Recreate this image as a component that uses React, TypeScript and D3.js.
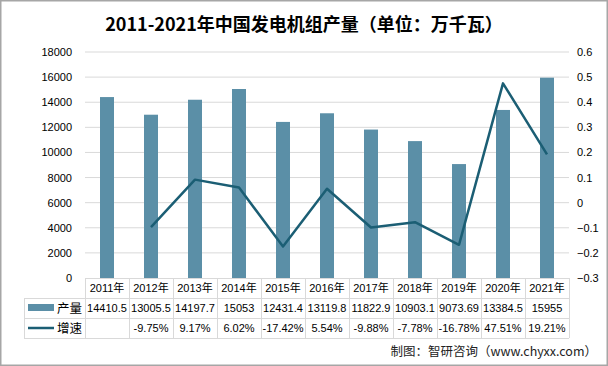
import React from "react";
import * as d3 from "d3";

const years = ["2011年","2012年","2013年","2014年","2015年","2016年","2017年","2018年","2019年","2020年","2021年"];
const output = [14410.5, 13005.5, 14197.7, 15053, 12431.4, 13119.8, 11822.9, 10903.1, 9073.69, 13384.5, 15955];
const outputLabels = ["14410.5","13005.5","14197.7","15053","12431.4","13119.8","11822.9","10903.1","9073.69","13384.5","15955"];
const growth: (number | null)[] = [null, -0.0975, 0.0917, 0.0602, -0.1742, 0.0554, -0.0988, -0.0778, -0.1678, 0.4751, 0.1921];
const growthLabels = ["", "-9.75%", "9.17%", "6.02%", "-17.42%", "5.54%", "-9.88%", "-7.78%", "-16.78%", "47.51%", "19.21%"];
const leftTicks = [0, 2000, 4000, 6000, 8000, 10000, 12000, 14000, 16000, 18000];
const rightTicks = [-0.3, -0.2, -0.1, 0, 0.1, 0.2, 0.3, 0.4, 0.5, 0.6];
const seriesNames = ["产量", "增速"];

const W = 608, H = 366;
const X0 = 85, X1 = 569, YT = 52, YB = 278;
const ROW = 20;
const BAR = "#5b8fa7";
const LINE = "#1b5e74";
const GRID = "#d9d9d9";
const FONT = "'Liberation Sans', 'Noto Sans CJK SC', sans-serif";
const CJK = "'Noto Sans CJK SC', sans-serif";

export default function App() {
  const x = d3.scaleBand<string>().domain(years).range([X0, X1]).paddingInner(0).paddingOuter(0);
  const yL = d3.scaleLinear().domain([0, 18000]).range([YB, YT]);
  const yR = d3.scaleLinear().domain([-0.3, 0.6]).range([YB, YT]);
  const bw = x.bandwidth();
  const barW = 14;
  const lineGen = d3
    .line<number | null>()
    .defined((d) => d !== null)
    .x((_, i) => (x(years[i]) as number) + bw / 2)
    .y((d) => yR(d as number));

  return (
    <div style={{ position: "fixed", left: 0, top: 0 }}>
      <svg width={W} height={H} style={{ display: "block", background: "#fff" }}>
        <rect x={0.75} y={0.75} width={W - 1.5} height={H - 1.5} fill="#fff" stroke="#a6a6a6" strokeWidth={1.5} />
        <text x={304} y={31} textAnchor="middle" fontFamily={CJK} fontWeight={700} fontSize={18} fill="#000">
          2011-2021年中国发电机组产量（单位：万千瓦）
        </text>
        {leftTicks.map((t) => (
          <g key={"l" + t}>
            {t !== 0 && <line x1={X0} x2={X1} y1={yL(t)} y2={yL(t)} stroke={GRID} strokeWidth={1} />}
            <text x={72} y={yL(t) + 4} textAnchor="end" fontFamily={FONT} fontSize={11} fill="#000">
              {t}
            </text>
          </g>
        ))}
        {rightTicks.map((t) => (
          <text key={"r" + t} x={577} y={yR(t) + 4} textAnchor="start" fontFamily={FONT} fontSize={11} fill="#000">
            {d3.format("")(+t.toFixed(1))}
          </text>
        ))}
        {output.map((v, i) => (
          <rect
            key={"b" + i}
            x={(x(years[i]) as number) + bw / 2 - barW / 2}
            y={yL(v)}
            width={barW}
            height={YB - yL(v)}
            fill={BAR}
          />
        ))}
        <path d={lineGen(growth) || ""} fill="none" stroke={LINE} strokeWidth={2.5} strokeLinejoin="round" />
        <g stroke={GRID} strokeWidth={1} shapeRendering="crispEdges">
          <line x1={X0} x2={X1} y1={YB} y2={YB} />
          <line x1={24} x2={X1} y1={YB + ROW} y2={YB + ROW} />
          <line x1={24} x2={X1} y1={YB + 2 * ROW} y2={YB + 2 * ROW} />
          <line x1={24} x2={X1} y1={YB + 3 * ROW} y2={YB + 3 * ROW} />
          <line x1={24} x2={24} y1={YB + ROW} y2={YB + 3 * ROW} />
          {years.map((yr) => (
            <line key={"v" + yr} x1={x(yr)} x2={x(yr)} y1={YB} y2={YB + 3 * ROW} />
          ))}
          <line x1={X1} x2={X1} y1={YB} y2={YB + 3 * ROW} />
        </g>
        {years.map((yr, i) => {
          const cx = (x(yr) as number) + bw / 2;
          return (
            <g key={"t" + yr} fontFamily={FONT} fontSize={11} fill="#000" textAnchor="middle">
              <text x={cx} y={YB + 14}>{yr}</text>
              <text x={cx} y={YB + ROW + 14}>{outputLabels[i]}</text>
              <text x={cx} y={YB + 2 * ROW + 14}>{growthLabels[i]}</text>
            </g>
          );
        })}
        <rect x={28} y={YB + ROW + 6} width={26} height={7} fill={BAR} />
        <text x={57} y={YB + ROW + 15} fontFamily={CJK} fontSize={12.5} fill="#000">{seriesNames[0]}</text>
        <line x1={28} x2={54} y1={YB + 2 * ROW + 10} y2={YB + 2 * ROW + 10} stroke={LINE} strokeWidth={2.5} />
        <text x={57} y={YB + 2 * ROW + 15} fontFamily={CJK} fontSize={12.5} fill="#000">{seriesNames[1]}</text>
        <text x={597} y={356} textAnchor="end" fontFamily={CJK} fontSize={12.5} fill="#222">
          制图：智研咨询（www.chyxx.com）
        </text>
      </svg>
    </div>
  );
}
